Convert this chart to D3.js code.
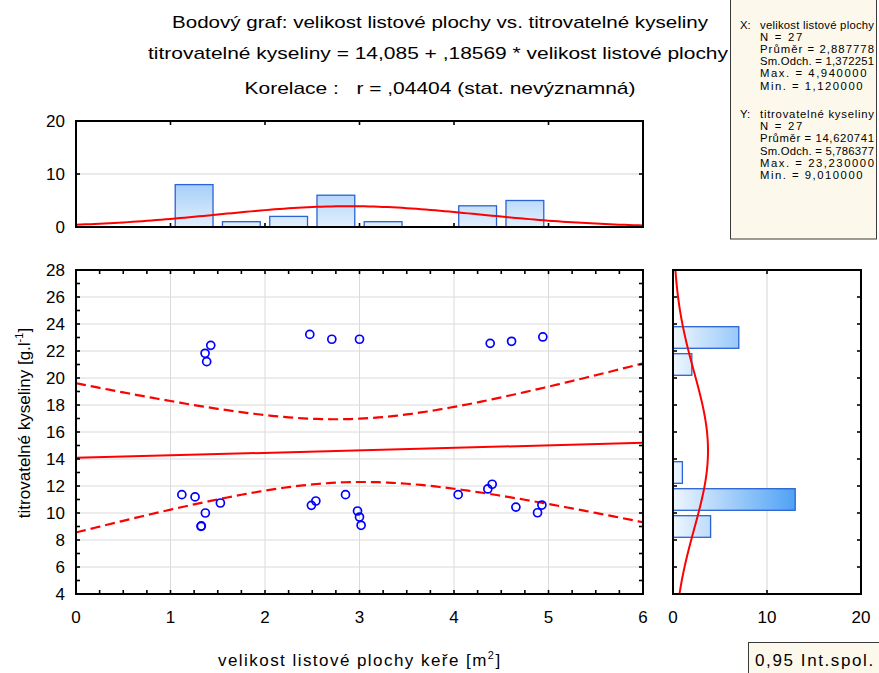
<!DOCTYPE html>
<html>
<head>
<meta charset="utf-8">
<script src="https://cdn.jsdelivr.net/npm/d3@7"></script>
<style>
  html,body{margin:0;padding:0;background:#fff;}
  svg{display:block;font-family:"Liberation Sans",Arial,sans-serif;}
  text{white-space:pre;}
</style>
</head>
<body>
<svg id="chart" width="879" height="673"></svg>
<script>
// ---------------- DATA ----------------
const leafArea = [1.366,1.383,1.426,2.474,2.707,3.00,4.383,4.609,4.94,
                  1.12,1.26,1.323,1.369,1.528,2.491,2.538,2.852,2.979,3.00,3.017,
                  4.044,4.358,4.404,4.655,4.884,4.93,1.326];
const acidity  = [21.83,21.21,22.42,23.23,22.87,22.87,22.57,22.72,23.04,
                  11.36,11.19,9.01,10.0,10.74,10.57,10.89,11.36,10.15,9.70,9.09,
                  11.36,11.78,12.13,10.44,10.02,10.59,9.04];

const topBinStarts = [1.0,1.5,2.0,2.5,3.0,3.5,4.0,4.5];
const topBinCounts = [8,1,2,6,1,0,4,5];
const topBinWidth = 0.5;

const rightBinStarts = [8,10,12,14,16,18,20,22];
const rightBinCounts = [4,13,1,0,0,0,2,7];
const rightBinWidth = 2;

const statN = 27;
const xMean = 2.887778, xSd = 1.372251;
const yMean = 14.620741, ySd = 5.786377;
const intercept = 14.085, slope = 0.18569, corr = 0.04404;
const tCrit = 2.0595;

const xTicks = [0,1,2,3,4,5,6];
const yTicks = [4,6,8,10,12,14,16,18,20,22,24,26,28];
const topHistTicks = [0,10,20];
const rightHistTicks = [0,10,20];

const titleLines = [
  "Bodový graf: velikost listové plochy vs. titrovatelné kyseliny",
  "titrovatelné kyseliny = 14,085 + ,18569 * velikost listové plochy",
  "Korelace :   r = ,04404 (stat. nevýznamná)"
];
const statsX = ["X:","velikost listové plochy","N = 27","Průměr = 2,887778","Sm.Odch. = 1,372251","Max. = 4,940000","Min. = 1,120000"];
const statsY = ["Y:","titrovatelné kyseliny","N = 27","Průměr = 14,620741","Sm.Odch. = 5,786377","Max. = 23,230000","Min. = 9,010000"];

// ---------------- SETUP ----------------
const svg = d3.select("#chart");
const FS = 17;
const x = d3.scaleLinear().domain([0,6]).range([76,643]);
const y = d3.scaleLinear().domain([4,28]).range([594,270]);
const yTop = d3.scaleLinear().domain([0,20]).range([227,121]);
const xR = d3.scaleLinear().domain([0,20]).range([673,861]);

const defs = svg.append("defs");
const gTop = defs.append("linearGradient").attr("id","gTop")
  .attr("gradientUnits","userSpaceOnUse")
  .attr("x1",0).attr("x2",0).attr("y1",yTop(0)).attr("y2",yTop(10));
gTop.append("stop").attr("offset",0).attr("stop-color","#e2effd");
gTop.append("stop").attr("offset",1).attr("stop-color","#98c7f8");
const gR = defs.append("linearGradient").attr("id","gR")
  .attr("gradientUnits","userSpaceOnUse")
  .attr("x1",xR(0)).attr("x2",xR(13)).attr("y1",0).attr("y2",0);
gR.append("stop").attr("offset",0).attr("stop-color","#eef6fe");
gR.append("stop").attr("offset",1).attr("stop-color","#4fa2f5");

// ---------------- TITLES ----------------
const titleY = [28,59,94];
const titleLen = [536,580,391];
const titleCx = [440,438,440];
titleLines.forEach((t,i)=>{
  svg.append("text").attr("x",titleCx[i]).attr("y",titleY[i])
    .attr("text-anchor","middle").attr("font-size",FS).attr("fill","#000")
    .attr("textLength",titleLen[i]).attr("lengthAdjust","spacingAndGlyphs")
    .text(t);
});

// ---------------- helper: inward ticks ----------------
function ticks(g, orient, scale, values, pos, len){
  values.forEach(v=>{
    const p = scale(v);
    let x1,x2,y1,y2;
    if(orient==="bottom"){x1=x2=p;y1=pos;y2=pos-len;}
    if(orient==="top"){x1=x2=p;y1=pos;y2=pos+len;}
    if(orient==="left"){y1=y2=p;x1=pos;x2=pos+len;}
    if(orient==="right"){y1=y2=p;x1=pos;x2=pos-len;}
    g.append("line").attr("x1",x1).attr("x2",x2).attr("y1",y1).attr("y2",y2)
      .attr("stroke","#000").attr("stroke-width",1.6);
  });
}

// ---------------- MAIN PLOT ----------------
const mainG = svg.append("g");
mainG.selectAll(".gx").data(xTicks.slice(1,-1)).enter().append("line")
  .attr("x1",d=>x(d)).attr("x2",d=>x(d)).attr("y1",y(28)).attr("y2",y(4))
  .attr("stroke","#dadada").attr("stroke-width",1);
mainG.selectAll(".gy").data(yTicks.slice(1,-1)).enter().append("line")
  .attr("y1",d=>y(d)).attr("y2",d=>y(d)).attr("x1",x(0)).attr("x2",x(6))
  .attr("stroke","#dadada").attr("stroke-width",1);

const resVar = (1-corr*corr)*(statN-1)*ySd*ySd/(statN-2);
const se = Math.sqrt(resVar);
const sxx = (statN-1)*xSd*xSd;
const xs = d3.range(0,6.0001,0.05);
const fit = v => intercept + slope*v;
const half = v => tCrit*se*Math.sqrt(1/statN + (v-xMean)*(v-xMean)/sxx);
const line = d3.line().x(d=>x(d[0])).y(d=>y(d[1]));
mainG.append("path").attr("d",line([[0,fit(0)],[6,fit(6)]]))
  .attr("fill","none").attr("stroke","#ff0000").attr("stroke-width",2);
mainG.append("path").attr("d",line(xs.map(v=>[v,fit(v)+half(v)])))
  .attr("fill","none").attr("stroke","#ff0000").attr("stroke-width",2.2).attr("stroke-dasharray","10,5");
mainG.append("path").attr("d",line(xs.map(v=>[v,fit(v)-half(v)])))
  .attr("fill","none").attr("stroke","#ff0000").attr("stroke-width",2.2).attr("stroke-dasharray","10,5");

mainG.selectAll(".pt").data(leafArea.map((v,i)=>[v,acidity[i]])).enter().append("circle")
  .attr("cx",d=>x(d[0])).attr("cy",d=>y(d[1])).attr("r",4)
  .attr("fill","none").attr("stroke","#0000ff").attr("stroke-width",1.7);

mainG.append("rect").attr("x",x(0)).attr("y",y(28)).attr("width",x(6)-x(0)).attr("height",y(4)-y(28))
  .attr("fill","none").attr("stroke","#000").attr("stroke-width",2);
const xMinor = d3.range(0,6.001,0.25);
const yMinor = d3.range(4,28.001,1);
ticks(mainG,"bottom",x,xMinor,y(4),4);
ticks(mainG,"top",x,xMinor,y(28),4);
ticks(mainG,"left",y,yMinor,x(0),4);
ticks(mainG,"right",y,yMinor,x(6),4);
mainG.selectAll(".xl").data(xTicks).enter().append("text")
  .attr("x",d=>x(d)).attr("y",623).attr("text-anchor","middle").attr("font-size",FS).text(d=>d);
mainG.selectAll(".yl").data(yTicks).enter().append("text")
  .attr("x",65).attr("y",d=>y(d)+6).attr("text-anchor","end").attr("font-size",FS).text(d=>d);

const yt = svg.append("text").attr("transform","translate(30,423) rotate(-90)")
  .attr("text-anchor","middle").attr("font-size",FS);
yt.append("tspan").text("titrovatelné kyseliny [g.l");
yt.append("tspan").attr("font-size",11).attr("dy",-7).text("-1");
yt.append("tspan").attr("dy",7).text("]");
const xt = svg.append("text").attr("x",218).attr("y",666)
  .attr("font-size",FS).attr("letter-spacing","1.45");
xt.append("tspan").text("velikost listové plochy keře [m");
xt.append("tspan").attr("font-size",11).attr("dy",-7).text("2");
xt.append("tspan").attr("dy",7).text("]");

// ---------------- TOP HISTOGRAM ----------------
const topG = svg.append("g");
topG.append("line").attr("x1",x(0)).attr("x2",x(6)).attr("y1",yTop(10)).attr("y2",yTop(10))
  .attr("stroke","#d4d4d4").attr("stroke-width",1);
topG.selectAll(".tb").data(topBinStarts.map((s,i)=>[s,topBinCounts[i]]).filter(d=>d[1]>0))
  .enter().append("rect")
  .attr("x",d=>x(d[0]+topBinWidth*0.1)).attr("width",d=>x(d[0]+topBinWidth*0.9)-x(d[0]+topBinWidth*0.1))
  .attr("y",d=>yTop(d[1])).attr("height",d=>yTop(0)-yTop(d[1]))
  .attr("fill","url(#gTop)").attr("stroke","#2a63d4").attr("stroke-width",1.3);
const topCurve = d3.range(0,6.0001,0.05).map(v=>[v, statN*topBinWidth/(xSd*Math.sqrt(2*Math.PI))*Math.exp(-0.5*Math.pow((v-xMean)/xSd,2))]);
topG.append("path").attr("d",d3.line().x(d=>x(d[0])).y(d=>yTop(d[1]))(topCurve))
  .attr("fill","none").attr("stroke","#ff0000").attr("stroke-width",2);
topG.append("rect").attr("x",x(0)).attr("y",yTop(20)).attr("width",x(6)-x(0)).attr("height",yTop(0)-yTop(20))
  .attr("fill","none").attr("stroke","#000").attr("stroke-width",2);
ticks(topG,"top",x,[1,2,3,4,5],yTop(20),4);
ticks(topG,"bottom",x,[1,2,3,4,5],yTop(0),4);
ticks(topG,"left",yTop,[10],x(0),4);
ticks(topG,"right",yTop,[10],x(6),4);
topG.selectAll(".tl").data(topHistTicks).enter().append("text")
  .attr("x",65).attr("y",d=>yTop(d)+6).attr("text-anchor","end").attr("font-size",FS).text(d=>d);

// ---------------- RIGHT HISTOGRAM ----------------
const rh = svg.append("g");
rh.append("line").attr("x1",xR(10)).attr("x2",xR(10)).attr("y1",y(28)).attr("y2",y(4))
  .attr("stroke","#d4d4d4").attr("stroke-width",1);
rh.selectAll(".rb").data(rightBinStarts.map((s,i)=>[s,rightBinCounts[i]]).filter(d=>d[1]>0))
  .enter().append("rect")
  .attr("y",d=>y(d[0]+rightBinWidth*0.9)).attr("height",d=>y(d[0]+rightBinWidth*0.1)-y(d[0]+rightBinWidth*0.9))
  .attr("x",xR(0)).attr("width",d=>xR(d[1])-xR(0))
  .attr("fill","url(#gR)").attr("stroke","#2a63d4").attr("stroke-width",1.3);
const rCurve = d3.range(4,28.0001,0.1).map(v=>[v, statN*rightBinWidth/(ySd*Math.sqrt(2*Math.PI))*Math.exp(-0.5*Math.pow((v-yMean)/ySd,2))]);
rh.append("path").attr("d",d3.line().x(d=>xR(d[1])).y(d=>y(d[0]))(rCurve))
  .attr("fill","none").attr("stroke","#ff0000").attr("stroke-width",2);
rh.append("rect").attr("x",xR(0)).attr("y",y(28)).attr("width",xR(20)-xR(0)).attr("height",y(4)-y(28))
  .attr("fill","none").attr("stroke","#000").attr("stroke-width",2);
const rMinor = d3.range(6,27,2);
ticks(rh,"left",y,rMinor,xR(0),4);
ticks(rh,"right",y,rMinor,xR(20),4);
ticks(rh,"top",xR,[10],y(28),4);
ticks(rh,"bottom",xR,[10],y(4),4);
rh.selectAll(".rl").data(rightHistTicks).enter().append("text")
  .attr("x",d=>xR(d)).attr("y",623).attr("text-anchor","middle").attr("font-size",FS).text(d=>d);

// ---------------- STATS BOX ----------------
const sb = svg.append("g");
sb.append("rect").attr("x",730.5).attr("y",-1).attr("width",146).attr("height",240)
  .attr("fill","#fcf9ec").attr("stroke","#3a3a3a").attr("stroke-width",1);
function statBlock(lines, y0){
  sb.append("text").attr("x",740).attr("y",y0).attr("font-size",11.3).text(lines[0]);
  lines.slice(1).forEach((t,i)=>{
    const tx = sb.append("text").attr("x",760).attr("y",y0+i*12.2).attr("font-size",11.3).text(t);
    const w = tx.node().getComputedTextLength();
    tx.attr("textLength", Math.min(w*1.26, 114)).attr("lengthAdjust","spacing");
  });
}
statBlock(statsX, 28.5);
statBlock(statsY, 118);

// ---------------- LEGEND BOX ----------------
svg.append("rect").attr("x",748.5).attr("y",642.5).attr("width",145).attr("height",40)
  .attr("fill","#fcf9ec").attr("stroke","#3a3a3a").attr("stroke-width",1);
svg.append("text").attr("x",755).attr("y",666).attr("font-size",FS)
  .attr("letter-spacing","1.6").text("0,95 Int.spol.");
</script>
</body>
</html>
